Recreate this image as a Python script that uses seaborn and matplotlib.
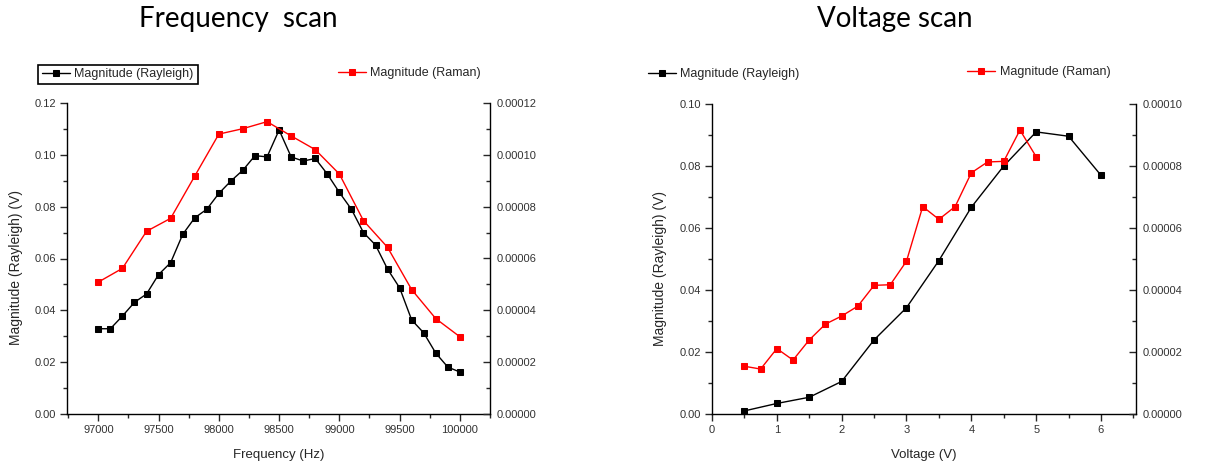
import numpy as np
import matplotlib
matplotlib.use("Agg")
import matplotlib.pyplot as plt
import seaborn as sns
from matplotlib.ticker import MultipleLocator, FormatStrFormatter

# Datos: barrido en frecuencia
freq_rayleigh = np.arange(97000, 100001, 100)
mag_rayleigh_f = [0.0329, 0.0329, 0.0378, 0.0431, 0.0463, 0.0538, 0.0584, 0.0693,
                  0.0757, 0.0790, 0.0851, 0.0899, 0.0941, 0.0997, 0.0992, 0.1096,
                  0.0992, 0.0976, 0.0986, 0.0926, 0.0855, 0.0790, 0.0700, 0.0652,
                  0.0559, 0.0487, 0.0363, 0.0313, 0.0235, 0.0181, 0.0162]
freq_raman = np.arange(97000, 100001, 200)
mag_raman_f = [5.09e-5, 5.62e-5, 7.05e-5, 7.55e-5, 9.18e-5, 1.080e-4, 1.101e-4, 1.128e-4,
               1.073e-4, 1.020e-4, 9.26e-5, 7.46e-5, 6.43e-5, 4.80e-5, 3.68e-5, 2.98e-5]

# Datos: barrido en voltaje
volt_rayleigh = [0.5, 1.0, 1.5, 2.0, 2.5, 3.0, 3.5, 4.0, 4.5, 5.0, 5.5, 6.0]
mag_rayleigh_v = [0.0010, 0.0034, 0.0054, 0.0105, 0.0239, 0.0343, 0.0495, 0.0667,
                  0.0800, 0.0910, 0.0896, 0.0770]
volt_raman = np.arange(0.5, 5.01, 0.25)
mag_raman_v = [1.54e-5, 1.45e-5, 2.11e-5, 1.74e-5, 2.39e-5, 2.90e-5, 3.16e-5, 3.48e-5,
               4.15e-5, 4.17e-5, 4.93e-5, 6.69e-5, 6.28e-5, 6.69e-5, 7.78e-5, 8.13e-5,
               8.15e-5, 9.16e-5, 8.30e-5]

sns.set_style("ticks")
plt.rcParams['font.family'] = ['Liberation Sans', 'DejaVu Sans']

W, H = 1216, 468
fig = plt.figure(figsize=(W / 100, H / 100), dpi=100)


def px_axes(x0, x1, y0, y1):
    return fig.add_axes([x0 / W, 1 - y1 / H, (x1 - x0) / W, (y1 - y0) / H])


def style_axes(ax, ax2, ylab, xlab):
    ax.spines['top'].set_visible(False)
    ax.spines['right'].set_visible(False)
    ax2.spines['top'].set_visible(False)
    ax2.spines['left'].set_visible(False)
    ax2.spines['bottom'].set_visible(False)
    for a in (ax, ax2):
        for s in a.spines.values():
            s.set_linewidth(1.0)
            s.set_color('black')
    ax.tick_params(which='major', direction='out', length=5, width=1, labelsize=8,
                   labelcolor='#333333', pad=3)
    ax.tick_params(which='minor', direction='out', length=3, width=1)
    ax2.tick_params(which='major', direction='in', length=5, width=1, labelsize=8,
                    labelcolor='#333333', pad=5)
    ax2.tick_params(which='minor', direction='in', length=3, width=1)
    ax.set_ylabel(ylab, fontsize=10)
    ax.set_xlabel(xlab, fontsize=9.5, labelpad=10)
    ax.yaxis.set_label_coords(-0.105, 0.47)
    ax2.set_ylabel('')


# --- Panel izquierdo: Frequency scan
ax1 = px_axes(67, 490, 103, 414)
ax1b = ax1.twinx()
sns.lineplot(x=freq_rayleigh, y=mag_rayleigh_f, ax=ax1, color='black', marker='s',
             markersize=5, markeredgecolor='black', linewidth=1)
sns.lineplot(x=freq_raman, y=mag_raman_f, ax=ax1b, color='#ff0000', marker='s',
             markersize=5, markeredgecolor='#ff0000', linewidth=1)
ax1.set_xlim(96740, 100250)
ax1.set_ylim(0, 0.12)
ax1b.set_ylim(0, 0.00012)
ax1.xaxis.set_major_locator(MultipleLocator(500))
ax1.xaxis.set_minor_locator(MultipleLocator(250))
ax1.yaxis.set_major_locator(MultipleLocator(0.02))
ax1.yaxis.set_minor_locator(MultipleLocator(0.01))
ax1.yaxis.set_major_formatter(FormatStrFormatter('%.2f'))
ax1b.yaxis.set_major_locator(MultipleLocator(0.00002))
ax1b.yaxis.set_minor_locator(MultipleLocator(0.00001))
ax1b.yaxis.set_major_formatter(FormatStrFormatter('%.5f'))
style_axes(ax1, ax1b, 'Magnitude (Rayleigh) (V)', 'Frequency (Hz)')

# --- Panel derecho: Voltage scan
ax2 = px_axes(712, 1136, 104, 414)
ax2b = ax2.twinx()
sns.lineplot(x=volt_rayleigh, y=mag_rayleigh_v, ax=ax2, color='black', marker='s',
             markersize=5, markeredgecolor='black', linewidth=1)
sns.lineplot(x=volt_raman, y=mag_raman_v, ax=ax2b, color='#ff0000', marker='s',
             markersize=5, markeredgecolor='#ff0000', linewidth=1)
ax2.set_xlim(0, 6.54)
ax2.set_ylim(0, 0.10)
ax2b.set_ylim(0, 0.0001)
ax2.xaxis.set_major_locator(MultipleLocator(1))
ax2.xaxis.set_minor_locator(MultipleLocator(0.5))
ax2.yaxis.set_major_locator(MultipleLocator(0.02))
ax2.yaxis.set_minor_locator(MultipleLocator(0.01))
ax2.yaxis.set_major_formatter(FormatStrFormatter('%.2f'))
ax2b.yaxis.set_major_locator(MultipleLocator(0.00002))
ax2b.yaxis.set_minor_locator(MultipleLocator(0.00001))
ax2b.yaxis.set_major_formatter(FormatStrFormatter('%.5f'))
style_axes(ax2, ax2b, 'Magnitude (Rayleigh) (V)', 'Voltage (V)')

# Títulos
fig.text(238 / W, 1 - 19 / H, 'Frequency  scan', ha='center', va='center',
         fontsize=20, color='black', family=['Lato', 'DejaVu Sans'])
fig.text(895 / W, 1 - 19 / H, 'Voltage scan', ha='center', va='center',
         fontsize=20, color='black', family=['Lato', 'DejaVu Sans'])

# Leyendas
leg_kw = dict(fontsize=9, handlelength=2.2, handletextpad=0.4, borderpad=0.3,
              loc='center left')
fig.legend(handles=[ax1.lines[0]], labels=['Magnitude (Rayleigh)'],
           bbox_to_anchor=(32 / W, 1 - 74.5 / H), frameon=True, fancybox=False,
           edgecolor='black', framealpha=1, **leg_kw).get_frame().set_linewidth(1.2)
fig.legend(handles=[ax1b.lines[0]], labels=['Magnitude (Raman)'],
           bbox_to_anchor=(328 / W, 1 - 73 / H), frameon=False, **leg_kw)
fig.legend(handles=[ax2.lines[0]], labels=['Magnitude (Rayleigh)'],
           bbox_to_anchor=(638 / W, 1 - 74 / H), frameon=False, **leg_kw)
fig.legend(handles=[ax2b.lines[0]], labels=['Magnitude (Raman)'],
           bbox_to_anchor=(957 / W, 1 - 72 / H), frameon=False, **leg_kw)

fig.savefig('out.png', dpi=100)
